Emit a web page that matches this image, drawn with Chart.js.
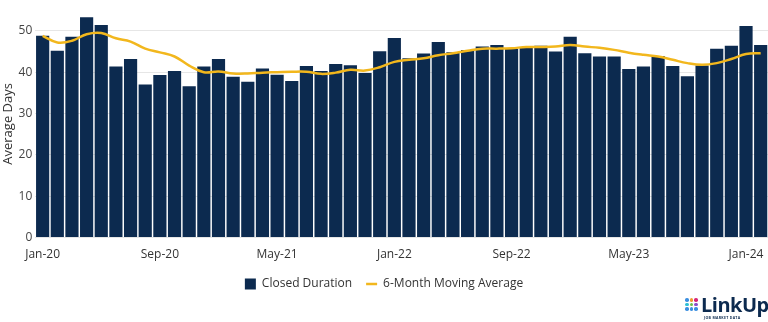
<!DOCTYPE html>
<html lang="en">
<head>
<meta charset="UTF-8">
<title>Closed Duration</title>
<script src="https://cdn.jsdelivr.net/npm/chart.js@4"></script>
<style>
  html, body { margin: 0; padding: 0; background: #fff; }
  .wrap { position: relative; width: 768px; height: 322px; }
  .logo { position: absolute; left: 685px; top: 293px; width: 83px; height: 29px; }
  .dots { position: absolute; left: 0; top: 5px; display: grid; grid-template-columns: repeat(3, 3.5px); gap: 1.2px; }
  .dots span { width: 3.5px; height: 3.5px; border-radius: 50%; display: block; }
  .brand { position: absolute; left: 16px; top: -2px; font-family: 'Open Sans', sans-serif; font-weight: 700;
           font-size: 20px; color: #0c2a4f; letter-spacing: -0.5px; }
  .tag { position: absolute; left: 19px; top: 22px; font-family: 'Open Sans', sans-serif; font-weight: 700;
         font-size: 3.5px; color: #0c2a4f; letter-spacing: 0.3px; white-space: nowrap; }
</style>
</head>
<body>
<div class="wrap">
  <canvas id="chart"></canvas>
  <div class="logo">
    <div class="dots">
      <span style="background:#3b8fe0"></span><span style="background:#f29a2e"></span><span style="background:#d6267a"></span>
      <span style="background:#2cc0d6"></span><span style="background:#6cc04a"></span><span style="background:#8a4fc8"></span>
      <span style="background:#3b8fe0"></span><span style="background:#3b8fe0"></span><span style="background:#3b8fe0"></span>
    </div>
    <div class="brand">LinkUp</div>
    <div class="tag">JOB MARKET DATA</div>
  </div>
</div>

<script>
// ---------------------------------------------------------------------------
// Data: monthly, Jan-20 .. Feb-24
// ---------------------------------------------------------------------------
const months = [
  'Jan-20','Feb-20','Mar-20','Apr-20','May-20','Jun-20','Jul-20','Aug-20','Sep-20','Oct-20','Nov-20','Dec-20',
  'Jan-21','Feb-21','Mar-21','Apr-21','May-21','Jun-21','Jul-21','Aug-21','Sep-21','Oct-21','Nov-21','Dec-21',
  'Jan-22','Feb-22','Mar-22','Apr-22','May-22','Jun-22','Jul-22','Aug-22','Sep-22','Oct-22','Nov-22','Dec-22',
  'Jan-23','Feb-23','Mar-23','Apr-23','May-23','Jun-23','Jul-23','Aug-23','Sep-23','Oct-23','Nov-23','Dec-23',
  'Jan-24','Feb-24'
];

const closedDuration = [
  48.8, 45.2, 48.6, 53.3, 51.4, 41.4, 43.2, 37.0, 39.3, 40.3, 36.6, 41.4,
  43.2, 38.9, 37.7, 40.9, 39.4, 37.9, 41.5, 40.3, 42.0, 41.7, 39.8, 45.1,
  48.3, 43.4, 44.5, 47.3, 44.8, 45.4, 46.2, 46.6, 45.7, 45.9, 46.4, 45.0,
  48.6, 44.6, 43.8, 43.8, 40.8, 41.4, 43.9, 41.5, 39.0, 41.6, 45.7, 46.4,
  51.2, 46.6
];

const movingAvg = [
  48.8, 47.2, 47.6, 49.2, 49.5, 48.2, 47.4, 45.7, 44.8, 43.8, 41.6, 40.0,
  40.2, 39.7, 39.7, 39.9, 40.0, 40.1, 40.1, 39.6, 39.9, 40.6, 40.4, 41.2,
  42.5, 43.0, 43.4, 44.1, 44.6, 45.2, 45.7, 45.7, 45.8, 46.1, 46.1, 46.2,
  46.6, 46.2, 45.9, 45.4, 44.7, 44.2, 43.8, 43.0, 42.2, 41.8, 42.2, 43.2,
  44.4, 44.6
];

const yTicks = [0, 10, 20, 30, 40, 50];

// ---------------------------------------------------------------------------
// Chart
// ---------------------------------------------------------------------------
const FONT = "'Open Sans', sans-serif";

new Chart(document.getElementById('chart'), {
  data: {
    labels: months,
    datasets: [
      {
        type: 'line',
        label: '6-Month Moving Average',
        data: movingAvg,
        borderColor: '#f2b71d',
        backgroundColor: '#f2b71d',
        borderWidth: 2.5,
        pointRadius: 0,
        pointStyle: 'line',
        tension: 0.4,
        order: 0
      },
      {
        type: 'bar',
        label: 'Closed Duration',
        data: closedDuration,
        backgroundColor: '#0c2a4f',
        borderColor: '#0c2a4f',
        borderWidth: 0,
        barPercentage: 0.9,
        categoryPercentage: 1.0,
        pointStyle: 'rect',
        order: 1
      }
    ]
  },
  options: {
    responsive: true,
    maintainAspectRatio: false,
    animation: false,
    layout: { padding: { top: 8, right: 0, left: 0, bottom: 22 } },
    plugins: {
      tooltip: { enabled: false },
      legend: {
        position: 'bottom',
        reverse: true,
        labels: {
          usePointStyle: true,
          pointStyleWidth: 11,
          boxWidth: 11,
          boxHeight: 11,
          color: '#333',
          padding: 14,
          font: { family: FONT, size: 12 }
        }
      }
    },
    scales: {
      x: {
        grid: { display: false },
        border: { display: false },
        ticks: {
          autoSkip: false,
          maxRotation: 0,
          padding: 2,
          color: '#333',
          font: { family: FONT, size: 12 },
          callback: (v, i) => (i % 8 === 0 ? months[i] : '')
        }
      },
      y: {
        min: 0,
        max: 55,
        afterBuildTicks: s => { s.ticks = yTicks.map(v => ({ value: v })); },
        grid: { color: '#e6e6e6', drawTicks: false },
        border: { display: false },
        ticks: {
          padding: 3,
          color: '#444',
          font: { family: FONT, size: 12 }
        },
        title: {
          display: true,
          text: 'Average Days',
          color: '#333',
          padding: { top: 0, bottom: 0 },
          font: { family: FONT, size: 13 }
        }
      }
    }
  }
});
</script>
</body>
</html>
